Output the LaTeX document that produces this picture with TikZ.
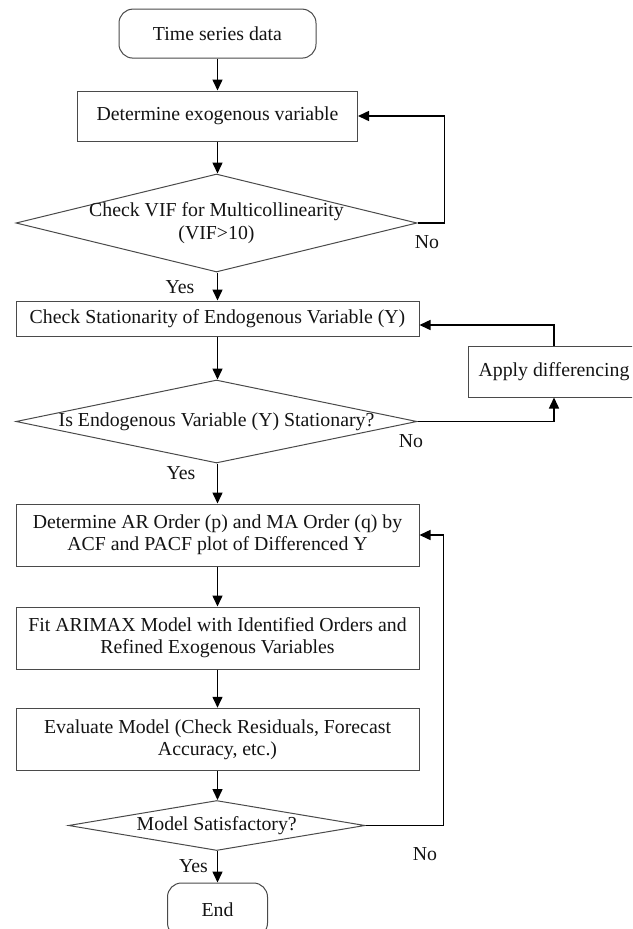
\documentclass[tikz,border=0pt]{standalone}
\usepackage{fontspec}
\setmainfont{Liberation Serif}
\usetikzlibrary{arrows.meta,calc,shapes.geometric}
\definecolor{boxline}{HTML}{4A4A4A}
\definecolor{inkcol}{HTML}{141414}
\newcommand{\flowfont}{\fontsize{19.8}{22.3}\selectfont}
\begin{document}
\begin{tikzpicture}[x=1pt,y=-1pt,
  every node/.style={text=inkcol,font=\flowfont},
  proc/.style={draw=boxline,line width=1pt,inner sep=0pt,align=center},
  term/.style={proc,rounded corners=14pt},
  decision/.style={draw=boxline,line width=1pt,diamond,inner sep=0pt},
  txt/.style={inner sep=0pt,align=center},
  flow/.style={draw=black,line width=1.5pt,-{Triangle[length=11pt,width=10pt]}},
  tag/.style={inner sep=0pt}]
\useasboundingbox (0,0) rectangle (632,929);
\clip (0,0) rectangle (632,929);
\fill[white] (0,0) rectangle (632,929);

% main column
\node[term,minimum width=197pt,minimum height=49pt] (start) at (217.5,33.6) {Time series data};
\node[proc,minimum width=280pt,minimum height=50pt] (exo) at (217.5,116) {Determine exogenous variable};
\node[decision,minimum width=401pt,minimum height=98pt] (vif) at (216.5,223) {};
\node[txt] (viftext) at (vif.center) {Check VIF for Multicollinearity\\(VIF>10)};
\node[proc,minimum width=403pt,minimum height=35pt] (stat) at (217.5,318.5) {Check Stationarity of Endogenous Variable (Y)};
\node[decision,minimum width=401pt,minimum height=83pt] (stq) at (216.5,421.5) {};
\node[txt] (stqtext) at (stq.center) {Is Endogenous Variable (Y) Stationary?};
\node[proc,minimum width=172pt,minimum height=51pt] (diff) at (554,371.5) {Apply differencing};
\node[proc,minimum width=403pt,minimum height=62pt] (order) at (217.5,535) {Determine AR Order (p) and MA Order (q) by\\ACF and PACF plot of Differenced Y};
\node[proc,minimum width=403pt,minimum height=62pt] (fit) at (217.5,638) {Fit ARIMAX Model with Identified Orders and\\Refined Exogenous Variables};
\node[proc,minimum width=403pt,minimum height=62.5pt] (eval) at (217.5,739.5) {Evaluate Model (Check Residuals, Forecast\\Accuracy, etc.)};
\node[decision,minimum width=296.5pt,minimum height=50pt] (sat) at (216.75,825.5) {};
\node[txt] (sattext) at (sat.center) {Model Satisfactory?};
\node[term,minimum width=100pt,minimum height=54pt] (end) at (217.5,910) {End};

% loop corners and entry points
\coordinate (statin) at ($(stat.east)+(0,6.5)$);
\coordinate (satturn) at (443.5,825.5);

% straight flow
\draw[flow] (start.south) -- (start.south |- exo.north);
\draw[flow] (exo.south) -- (exo.south |- vif.north);
\draw[flow] (vif.south -| stat.north) -- (stat.north);
\draw[flow] (stat.south) -- (stat.south |- stq.north);
\draw[flow] (stq.south -| order.north) -- (order.north);
\draw[flow] (order.south) -- (fit.north);
\draw[flow] (fit.south) -- (eval.north);
\draw[flow] (eval.south) -- (eval.south |- sat.north);
\draw[flow] (sat.south -| end.north) -- (end.north);

% feedback loops
\draw[flow] (vif.east) -- ++(27,0) |- (exo.east);
\draw[flow] (stq.east) -| (diff.south);
\draw[flow] (diff.north) |- (statin);
\draw[flow] (sat.east) -- (satturn) |- (order.east);

% branch labels
\node[tag] (no1) at (427,242) {No};
\node[tag] (yes1) at (180,287) {Yes};
\node[tag] (no2) at (411,441) {No};
\node[tag] (yes2) at (181,473) {Yes};
\node[tag] (no3) at (425,854) {No};
\node[tag] (yes3) at (193.5,866) {Yes};
\end{tikzpicture}
\end{document}
